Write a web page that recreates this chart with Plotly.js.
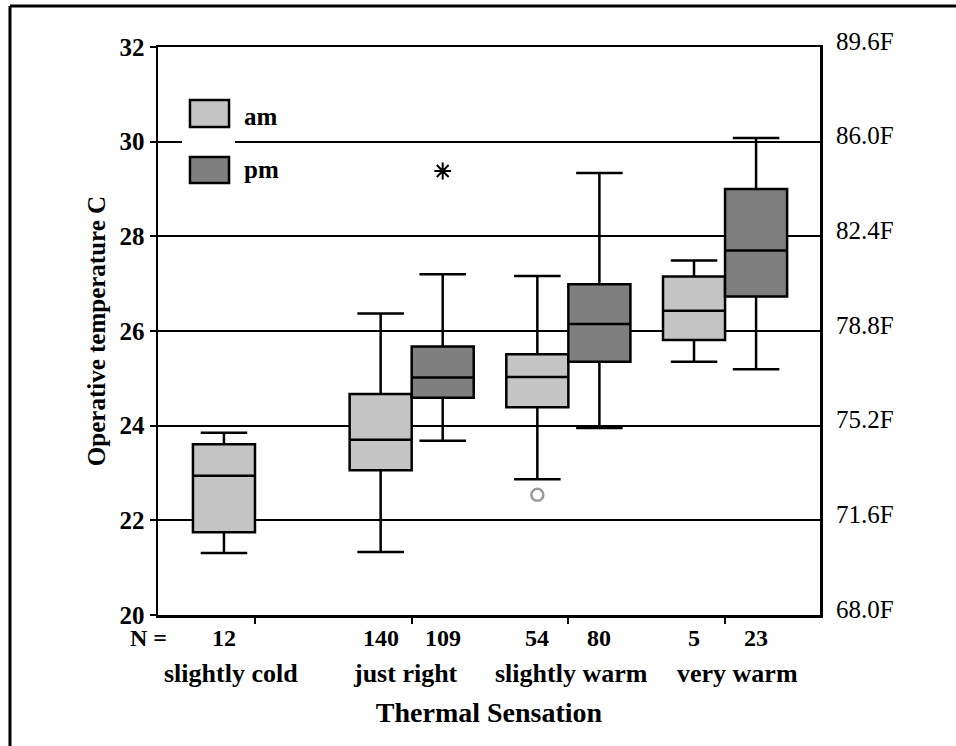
<!DOCTYPE html>
<html>
<head>
<meta charset="utf-8">
<script src="https://cdn.plot.ly/plotly-3.0.1.min.js"></script>
<style>html,body{margin:0;padding:0;background:#fff;}#chart{width:956px;height:746px;}</style>
</head>
<body>
<div id="chart"></div>
<script>
// ---- data ----
const categories = ['slightly cold', 'just right', 'slightly warm', 'very warm'];
const amN = [12, 140, 54, 5];
const pmN = [null, 109, 80, 23];

// am series (all four categories)
const amLower  = [21.31, 21.33, 22.87, 25.35];
const amQ1     = [21.75, 23.06, 24.39, 25.81];
const amMedian = [22.94, 23.70, 25.03, 26.43];
const amQ3     = [23.61, 24.67, 25.51, 27.15];
const amUpper  = [23.85, 26.37, 27.16, 27.49];

// pm series (no pm group for "slightly cold")
const pmCategories = ['just right', 'slightly warm', 'very warm'];
const pmLower  = [23.68, 23.95, 25.19];
const pmQ1     = [24.59, 25.35, 26.73];
const pmMedian = [25.02, 26.15, 27.70];
const pmQ3     = [25.67, 26.99, 29.00];
const pmUpper  = [27.20, 29.34, 30.08];

// outliers
const amOutlierCats = ['slightly warm'];
const amOutlierVals = [22.54];   // circle
const pmOutlierCats = ['just right'];
const pmOutlierVals = [29.38];   // extreme (star)

// axis tick labels
const yTicks = [20, 22, 24, 26, 28, 30, 32];
const fTicks = [68.0, 71.6, 75.2, 78.8, 82.4, 86.0, 89.6];
const fTickText = ['68.0F', '71.6F', '75.2F', '78.8F', '82.4F', '86.0F', '89.6F'];
const nPrefix = 'N =';
const seriesNames = ['am', 'pm'];

// ---- layout helpers ----
const OFF = 0.198, BOXW = 0.396;
const idx = c => categories.indexOf(c);
const amX = categories.map(c => idx(c) - OFF);
const pmX = pmCategories.map(c => idx(c) + OFF);
const AM_FILL = '#c4c4c4', PM_FILL = '#7f7f7f';
const SERIF = 'Liberation Serif, Times New Roman, serif';
const boldFont = (s) => ({family: SERIF, size: s, color: '#000', weight: 'bold'});
const catLabelShift = [-24, -6, 3, 12];   // pixel nudges of category names

const traces = [
  {
    type: 'box', name: seriesNames[0], x: amX,
    lowerfence: amLower, q1: amQ1, median: amMedian, q3: amQ3, upperfence: amUpper,
    width: BOXW, whiskerwidth: 0.75, boxpoints: false,
    fillcolor: AM_FILL, line: {color: '#000', width: 2.5},
    hoverinfo: 'skip', showlegend: false
  },
  {
    type: 'box', name: seriesNames[1], x: pmX,
    lowerfence: pmLower, q1: pmQ1, median: pmMedian, q3: pmQ3, upperfence: pmUpper,
    width: BOXW, whiskerwidth: 0.75, boxpoints: false,
    fillcolor: PM_FILL, line: {color: '#000', width: 2.5},
    hoverinfo: 'skip', showlegend: false
  },
  {
    type: 'scatter', mode: 'markers', x: amOutlierCats.map(c => idx(c) - OFF), y: amOutlierVals,
    marker: {symbol: 'circle-open', size: 12, color: '#9a9a9a', line: {width: 2.5, color: '#9a9a9a'}},
    hoverinfo: 'skip', showlegend: false
  },
  {
    type: 'scatter', mode: 'markers', x: pmOutlierCats.map(c => idx(c) + OFF), y: pmOutlierVals,
    marker: {symbol: 'asterisk-open', size: 14, color: '#000', line: {width: 2, color: '#000'}},
    hoverinfo: 'skip', showlegend: false
  }
];

// annotations: N counts, category names, "N =", Fahrenheit scale, legend text
const annotations = [];
const NY = -23, CY = -58;
annotations.push({xref: 'paper', yref: 'paper', x: -0.0136, y: 0, yshift: NY, text: nPrefix,
  showarrow: false, font: boldFont(24), xanchor: 'center', yanchor: 'middle'});
categories.forEach((c, i) => {
  annotations.push({xref: 'x', yref: 'paper', x: i - OFF, y: 0, yshift: NY, text: String(amN[i]),
    showarrow: false, font: boldFont(24), xanchor: 'center', yanchor: 'middle'});
  if (pmN[i] !== null) {
    annotations.push({xref: 'x', yref: 'paper', x: i + OFF, y: 0, yshift: NY, text: String(pmN[i]),
      showarrow: false, font: boldFont(24), xanchor: 'center', yanchor: 'middle'});
  }
  annotations.push({xref: 'x', yref: 'paper', x: i, y: 0, yshift: CY, xshift: catLabelShift[i], text: c,
    showarrow: false, font: boldFont(26), xanchor: 'center', yanchor: 'middle'});
});
fTicks.forEach((f, i) => {
  annotations.push({xref: 'paper', yref: 'y', x: 1, xshift: 14, y: (f - 32) * 5 / 9, yshift: 6,
    text: fTickText[i], showarrow: false, xanchor: 'left', yanchor: 'middle',
    font: {family: SERIF, size: 25, color: '#000'}});
});
annotations.push({xref: 'paper', yref: 'paper', x: 0.1269, y: 0.8768, text: seriesNames[0],
  showarrow: false, font: boldFont(25), xanchor: 'left', yanchor: 'middle'});
annotations.push({xref: 'paper', yref: 'paper', x: 0.1269, y: 0.7835, text: seriesNames[1],
  showarrow: false, font: boldFont(25), xanchor: 'left', yanchor: 'middle'});

const shapes = [
  // outer frame (top and left edges)
  {type: 'line', xref: 'paper', yref: 'paper', x0: -0.2236, x1: -0.2236, y0: -0.4, y1: 1.0722,
   line: {color: '#000', width: 3}, layer: 'above'},
  {type: 'line', xref: 'paper', yref: 'paper', x0: -0.2236, x1: 1.4, y0: 1.0722, y1: 1.0722,
   line: {color: '#000', width: 3}, layer: 'above'},
  // legend background and swatches
  {type: 'rect', xref: 'paper', yref: 'paper', x0: 0.0363, x1: 0.1163, y0: 0.7394, y1: 0.9243,
   fillcolor: '#fff', line: {width: 0}, layer: 'above'},
  {type: 'rect', xref: 'paper', yref: 'paper', x0: 0.0483, x1: 0.1073, y0: 0.8592, y1: 0.9067,
   fillcolor: AM_FILL, line: {color: '#000', width: 2.5}, layer: 'above'},
  {type: 'rect', xref: 'paper', yref: 'paper', x0: 0.0483, x1: 0.1073, y0: 0.7606, y1: 0.8063,
   fillcolor: PM_FILL, line: {color: '#000', width: 2.5}, layer: 'above'}
];

const layout = {
  width: 956, height: 746,
  margin: {l: 158, r: 136, t: 47, b: 131},
  paper_bgcolor: '#fff', plot_bgcolor: '#fff',
  showlegend: false,
  boxmode: 'overlay',
  xaxis: {
    range: [-0.619, 3.606], showgrid: false, zeroline: false,
    tickmode: 'array', tickvals: categories.map((c, i) => i), showticklabels: false,
    ticks: 'outside', ticklen: 6, tickwidth: 2, tickcolor: '#000',
    showline: true, linecolor: '#000', linewidth: 2.5, mirror: true,
    title: {text: 'Thermal Sensation', font: boldFont(28), standoff: 80}
  },
  yaxis: {
    range: [20, 32], tickmode: 'array', tickvals: yTicks,
    ticks: 'outside', ticklen: 6, tickwidth: 2, tickcolor: '#000',
    showgrid: true, gridcolor: '#000', gridwidth: 2, zeroline: false,
    showline: true, linecolor: '#000', linewidth: 2.5, mirror: true,
    tickfont: boldFont(25),
    title: {text: 'Operative temperature C', font: boldFont(25), standoff: 7}
  },
  annotations: annotations,
  shapes: shapes
};

Plotly.newPlot('chart', traces, layout, {staticPlot: true, displayModeBar: false});
</script>
</body>
</html>
